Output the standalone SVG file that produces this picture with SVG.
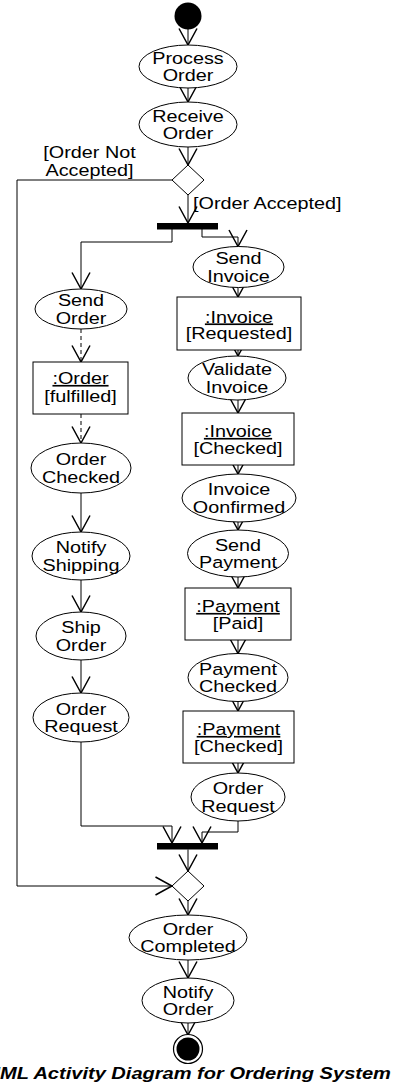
<svg xmlns="http://www.w3.org/2000/svg" width="396" height="1085" viewBox="0 0 396 1085">
<style>
.n{fill:#fff;stroke:#000;stroke-width:1}
.t{font-family:"Liberation Sans",Arial,sans-serif;font-size:16.5px;fill:#000;text-anchor:middle}
.u{text-decoration:underline}
.c{fill:none;stroke:#000;stroke-width:1;marker-end:url(#arr)}
.d{stroke-dasharray:4,3}
.ti{font-family:"Liberation Sans",Arial,sans-serif;font-size:17px;font-weight:bold;font-style:italic;fill:#000}
</style>
<defs>
<marker id="arr" markerUnits="userSpaceOnUse" markerWidth="30" markerHeight="30" viewBox="-15 -10 20 20" refX="0" refY="0" orient="auto" overflow="visible">
<path d="M-11,-6 L0,0 L-11,6" fill="none" stroke="#000" stroke-width="1"/>
</marker>
</defs>
<rect width="396" height="1085" fill="#fff"/>
<g id="connectors">
<path class="c" d="M188,29 V45"/>
<path class="c" d="M188,88 V102"/>
<path class="c" d="M188,147 V165"/>
<path class="c" d="M188,195 V223"/>
<path class="c" d="M172,229 V242 H81 V289"/>
<path class="c" d="M202,229 V237 H238 V246.5"/>
<path class="c d" d="M81,329 V362"/>
<path class="c d" d="M81,414 V443"/>
<path class="c" d="M81,493 V532"/>
<path class="c" d="M81,580 V612"/>
<path class="c" d="M81,660 V693"/>
<path class="c" d="M81,742 V826 H172 V843"/>
<path class="c" d="M238,287.5 V297"/>
<path class="c" d="M238,350 V356"/>
<path class="c" d="M238,400 V413"/>
<path class="c" d="M238,465 V474"/>
<path class="c" d="M238,522 V530"/>
<path class="c" d="M238,577 V588"/>
<path class="c" d="M238,640 V653.5"/>
<path class="c" d="M238,701.5 V711"/>
<path class="c" d="M238,763 V773"/>
<path class="c" d="M238,821 V832 H202 V843"/>
<path class="c" d="M188,849.5 V871"/>
<path class="c" d="M172,180 H17 V886 H172"/>
<path class="c" d="M188,901 V915"/>
<path class="c" d="M188,960 V978"/>
<path class="c" d="M188,1023 V1035"/>
<g transform="translate(89.5,0) scale(1.2,1)"><text class="t" x="0" y="158">[Order Not</text><text class="t" x="0" y="176">Accepted]</text></g>
<g transform="translate(193,0) scale(1.2,1)"><text class="t" x="0" y="209" style="text-anchor:start">[Order Accepted]</text></g>
</g>
<g id="start"><circle cx="188" cy="16" r="13.5" fill="#000"/></g>
<g id="processOrder"><ellipse class="n" cx="188" cy="66.5" rx="49" ry="21.5"/><g transform="translate(188,66.5) scale(1.2,1)"><text class="t" y="-3">Process</text><text class="t" y="15">Order</text></g></g>
<g id="receiveOrder"><ellipse class="n" cx="188" cy="124.5" rx="49" ry="22.5"/><g transform="translate(188,124.5) scale(1.2,1)"><text class="t" y="-3">Receive</text><text class="t" y="15">Order</text></g></g>
<g id="decision1"><polygon class="n" points="188,165 204,180 188,195 172,180"/></g>
<g id="fork"><rect x="157" y="223" width="61" height="6.5" fill="#000"/></g>
<g id="sendOrder"><ellipse class="n" cx="81" cy="309" rx="46" ry="20"/><g transform="translate(81,309) scale(1.2,1)"><text class="t" y="-3">Send</text><text class="t" y="15">Order</text></g></g>
<g id="orderObj"><rect class="n" x="33" y="362" width="95" height="52"/><g transform="translate(80.5,388) scale(1.2,1)"><text class="t u" y="-4">:Order</text><text class="t" y="14">[fulfilled]</text></g></g>
<g id="orderChecked"><ellipse class="n" cx="81" cy="468" rx="50" ry="25"/><g transform="translate(81,468) scale(1.2,1)"><text class="t" y="-3">Order</text><text class="t" y="15">Checked</text></g></g>
<g id="notifyShipping"><ellipse class="n" cx="81" cy="556" rx="49" ry="24"/><g transform="translate(81,556) scale(1.2,1)"><text class="t" y="-3">Notify</text><text class="t" y="15">Shipping</text></g></g>
<g id="shipOrder"><ellipse class="n" cx="81" cy="636" rx="45" ry="24"/><g transform="translate(81,636) scale(1.2,1)"><text class="t" y="-3">Ship</text><text class="t" y="15">Order</text></g></g>
<g id="orderRequestL"><ellipse class="n" cx="81" cy="717.5" rx="48" ry="24.5"/><g transform="translate(81,717.5) scale(1.2,1)"><text class="t" y="-3">Order</text><text class="t" y="15">Request</text></g></g>
<g id="sendInvoice"><ellipse class="n" cx="238.5" cy="267" rx="45.5" ry="20.5"/><g transform="translate(238.5,267) scale(1.2,1)"><text class="t" y="-3">Send</text><text class="t" y="15">Invoice</text></g></g>
<g id="invoiceRequested"><rect class="n" x="177" y="297" width="124" height="53"/><g transform="translate(239,323.5) scale(1.2,1)"><text class="t u" y="-1">:Invoice</text><text class="t" y="16">[Requested]</text></g></g>
<g id="validateInvoice"><ellipse class="n" cx="237" cy="378" rx="49" ry="22"/><g transform="translate(237,378) scale(1.2,1)"><text class="t" y="-3">Validate</text><text class="t" y="15">Invoice</text></g></g>
<g id="invoiceChecked"><rect class="n" x="182" y="413" width="112" height="52"/><g transform="translate(238,439) scale(1.2,1)"><text class="t u" y="-2">:Invoice</text><text class="t" y="15">[Checked]</text></g></g>
<g id="invoiceConfirmed"><ellipse class="n" cx="239" cy="498" rx="57" ry="24"/><g transform="translate(239,498) scale(1.2,1)"><text class="t" y="-3">Invoice</text><text class="t" y="15">Oonfirmed</text></g></g>
<g id="sendPayment"><ellipse class="n" cx="238" cy="553.5" rx="50.5" ry="23.5"/><g transform="translate(238,553.5) scale(1.2,1)"><text class="t" y="-3">Send</text><text class="t" y="15">Payment</text></g></g>
<g id="paymentPaid"><rect class="n" x="185" y="588" width="106" height="52"/><g transform="translate(238,614) scale(1.2,1)"><text class="t u" y="-2">:Payment</text><text class="t" y="15">[Paid]</text></g></g>
<g id="paymentChecked"><ellipse class="n" cx="238" cy="677.5" rx="50" ry="24"/><g transform="translate(238,677.5) scale(1.2,1)"><text class="t" y="-3">Payment</text><text class="t" y="15">Checked</text></g></g>
<g id="paymentCheckedObj"><rect class="n" x="183" y="711" width="111" height="52"/><g transform="translate(238.5,737) scale(1.2,1)"><text class="t u" y="-2">:Payment</text><text class="t" y="15">[Checked]</text></g></g>
<g id="orderRequestR"><ellipse class="n" cx="238" cy="797" rx="47" ry="24"/><g transform="translate(238,797) scale(1.2,1)"><text class="t" y="-3">Order</text><text class="t" y="15">Request</text></g></g>
<g id="join"><rect x="157" y="843" width="61" height="6.5" fill="#000"/></g>
<g id="merge"><polygon class="n" points="188,871 204,886 188,901 172,886"/></g>
<g id="orderCompleted"><ellipse class="n" cx="188" cy="937.5" rx="59" ry="22.5"/><g transform="translate(188,937.5) scale(1.2,1)"><text class="t" y="-3">Order</text><text class="t" y="15">Completed</text></g></g>
<g id="notifyOrder"><ellipse class="n" cx="188" cy="1000.5" rx="46" ry="22.5"/><g transform="translate(188,1000.5) scale(1.2,1)"><text class="t" y="-3">Notify</text><text class="t" y="15">Order</text></g></g>
<g id="end"><circle cx="188" cy="1049" r="14.5" fill="#fff" stroke="#000" stroke-width="1.2"/><circle cx="188" cy="1049" r="11.5" fill="#000"/></g>
<g id="title"><text class="ti" transform="translate(-14.5,1079) scale(1.18,1)" x="0" y="0">UML Activity Diagram for Ordering System</text></g>
</svg>
